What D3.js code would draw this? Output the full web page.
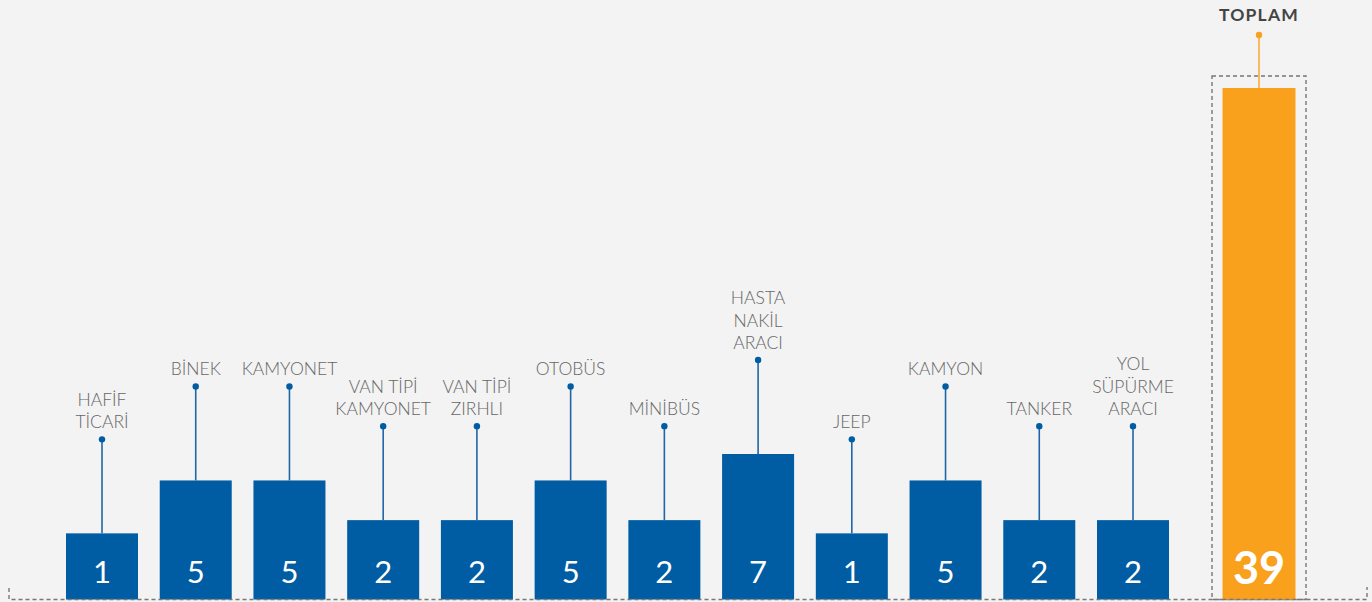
<!DOCTYPE html>
<html>
<head>
<meta charset="utf-8">
<script src="https://cdn.jsdelivr.net/npm/d3@7"></script>
<style>
  body { margin: 0; background: #f3f3f3; }
  svg { display: block; }
</style>
</head>
<body>
<script>
// chart values
var categories = [
  ["HAFİF", "TİCARİ"],
  ["BİNEK"],
  ["KAMYONET"],
  ["VAN TİPİ", "KAMYONET"],
  ["VAN TİPİ", "ZIRHLI"],
  ["OTOBÜS"],
  ["MİNİBÜS"],
  ["HASTA", "NAKİL", "ARACI"],
  ["JEEP"],
  ["KAMYON"],
  ["TANKER"],
  ["YOL", "SÜPÜRME", "ARACI"]
];
var values = [1, 5, 5, 2, 2, 5, 2, 7, 1, 5, 2, 2];
var totalLabel = "TOPLAM";
var totalValue = 39;

var width = 1372,
    height = 602;

var svg = d3.select("body").append("svg")
    .attr("width", width)
    .attr("height", height);

svg.append("rect")
    .attr("width", width)
    .attr("height", height)
    .attr("fill", "#f3f3f3");

var baseY = 599.5;

var x = d3.scalePoint()
    .domain(d3.range(values.length))
    .range([102, 1133]);

// bars do not start from zero in the original
var y = d3.scaleLinear()
    .domain([-4, 7])
    .range([baseY, 454]);

var yTotal = d3.scaleLinear()
    .domain([0, totalValue])
    .range([baseY, 88]);

var barW = 72,
    stemLen = 94,
    lineH = 22.5,
    blue = "#005ca3",
    orange = "#f9a11d";

var g = svg.append("g");

var item = g.selectAll(".item")
    .data(values)
    .enter().append("g")
    .attr("class", "item");

item.append("rect")
    .attr("x", function(d, i) { return x(i) - barW / 2; })
    .attr("y", function(d) { return y(d); })
    .attr("width", barW)
    .attr("height", function(d) { return baseY - y(d); })
    .attr("fill", blue);

item.append("line")
    .attr("x1", function(d, i) { return x(i); })
    .attr("x2", function(d, i) { return x(i); })
    .attr("y1", function(d) { return y(d); })
    .attr("y2", function(d) { return y(d) - stemLen; })
    .attr("stroke", "#1f66a8")
    .attr("stroke-width", 1.6);

item.append("circle")
    .attr("cx", function(d, i) { return x(i); })
    .attr("cy", function(d) { return y(d) - stemLen; })
    .attr("r", 3.2)
    .attr("fill", blue);

item.append("text")
    .attr("x", function(d, i) { return x(i); })
    .attr("y", 583)
    .attr("text-anchor", "middle")
    .attr("fill", "#fff")
    .style("font-family", "Lato, sans-serif")
    .style("font-size", "31px")
    .text(function(d) { return d; });

item.each(function(d, i) {
  var lines = categories[i];
  var t = d3.select(this).append("text")
      .attr("text-anchor", "middle")
      .attr("fill", "#666")
      .style("font-family", "Lato, sans-serif")
      .style("font-weight", 300)
      .style("font-size", "17.5px");
  lines.forEach(function(s, k) {
    t.append("tspan")
        .attr("x", x(i))
        .attr("y", y(d) - stemLen - 11 - (lines.length - 1 - k) * lineH)
        .text(s);
  });
});

// total
var tx = 1259;
svg.append("rect")
    .attr("x", 1212)
    .attr("y", 76)
    .attr("width", 94)
    .attr("height", baseY - 76)
    .attr("fill", "none")
    .attr("stroke", "#777")
    .attr("stroke-width", 1.4)
    .attr("stroke-dasharray", "4,3");

svg.append("rect")
    .attr("x", tx - 36.5)
    .attr("y", yTotal(totalValue))
    .attr("width", 73)
    .attr("height", baseY - yTotal(totalValue))
    .attr("fill", orange);

svg.append("line")
    .attr("x1", tx).attr("x2", tx)
    .attr("y1", yTotal(totalValue))
    .attr("y2", 35)
    .attr("stroke", orange)
    .attr("stroke-width", 1.4);

svg.append("circle")
    .attr("cx", tx)
    .attr("cy", 35)
    .attr("r", 3.2)
    .attr("fill", orange);

svg.append("text")
    .attr("x", tx)
    .attr("y", 21)
    .attr("text-anchor", "middle")
    .attr("fill", "#444")
    .style("font-family", "Lato, sans-serif")
    .style("font-weight", 700)
    .style("font-size", "17.5px")
    .style("letter-spacing", "1.2px")
    .text(totalLabel);

svg.append("text")
    .attr("x", tx)
    .attr("y", 584)
    .attr("text-anchor", "middle")
    .attr("fill", "#fff")
    .style("font-family", "Lato, sans-serif")
    .style("font-weight", 700)
    .style("font-size", "45px")
    .text(totalValue);

// dashed base line with end ticks
svg.append("path")
    .attr("d", "M9,588V" + baseY + "H1367V587")
    .attr("fill", "none")
    .attr("stroke", "#777")
    .attr("stroke-width", 1.4)
    .attr("stroke-dasharray", "4,3");
</script>
</body>
</html>
